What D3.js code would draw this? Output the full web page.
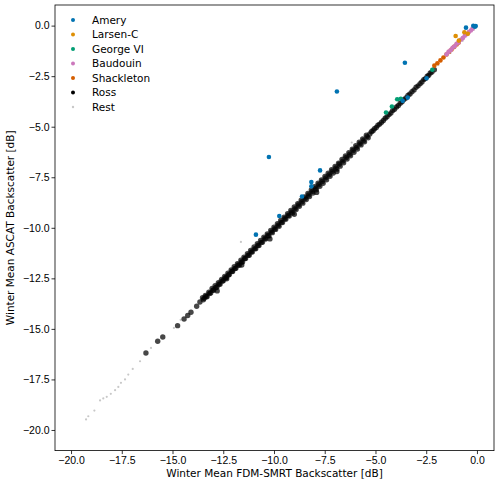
<!DOCTYPE html>
<html>
<head>
<meta charset="utf-8">
<script src="https://cdn.jsdelivr.net/npm/d3@7"></script>
<style>
  body { margin: 0; background: #fff; }
  svg { font-family: "DejaVu Sans", sans-serif; }
  .tick text { font-size: 10.5px; fill: #000; }
</style>
</head>
<body>
<div id="chart"></div>
<script>
// categories (legend order)
const groups = ['Amery', 'Larsen-C', 'George VI', 'Baudouin', 'Shackleton', 'Ross', 'Rest']
const colors = ['#0173b2', '#de8f05', '#029e73', '#cc78bc', '#d55e00', '#000000', '#c8c8c8']

// tick labels
const xTicks = [-20, -17.5, -15, -12.5, -10, -7.5, -5, -2.5, 0]
const yTicks = [-20, -17.5, -15, -12.5, -10, -7.5, -5, -2.5, 0]

// values  (x = FDM-SMRT, y = ASCAT)
const ameryX = [-3.55, -6.90, -10.25, -7.73, -8.16, -8.16, -8.62, -9.74, -10.89, -3.66, -3.41, -2.48, -0.54, -0.18, -0.10, -0.06]
const ameryY = [-1.84, -3.26, -6.50, -7.16, -7.74, -7.95, -8.45, -9.42, -10.34, -3.72, -3.56, -2.60, -0.10, -0.01, -0.05, -0.02]

const larsenX = [-1.05, -0.62, -0.89, -0.45]
const larsenY = [-0.51, -0.33, -0.74, -0.40]

const georgeX = [-3.93, -4.19, -4.48, -3.75, -2.20]
const georgeY = [-3.64, -4.00, -4.30, -3.62, -2.18]

const baudX = [-1.50, -1.40, -1.30, -1.20, -1.10, -1.00, -0.90, -0.80, -0.70, -0.60, -0.50, -0.40, -0.30, -0.22]
const baudY = [-1.42, -1.30, -1.22, -1.10, -1.02, -0.90, -0.82, -0.70, -0.62, -0.50, -0.43, -0.32, -0.24, -0.15]

const shackX = [-2.10, -1.95, -1.80, -1.65, -1.50, -1.38, -1.25, -1.12, -1.00, -0.90]
const shackY = [-1.98, -1.86, -1.72, -1.58, -1.43, -1.30, -1.18, -1.05, -0.93, -0.84]

const rossX = [-16.31, -15.73, -15.48, -14.75, -14.43, -14.25, -14.09, -13.81, -13.65,
  -13.52, -13.44, -13.38, -13.3, -13.21, -13.12, -13.05, -12.97, -12.9, -12.81,
  -12.74, -12.66, -12.58, -12.5, -12.43, -12.35, -12.27, -12.2, -12.11, -12.04,
  -11.96, -11.88, -11.8, -11.71, -11.63, -11.55, -11.48, -11.4, -11.31, -11.22,
  -11.15, -11.07, -10.98, -10.9, -10.82, -10.74, -10.66, -10.57, -10.5, -10.41,
  -10.33, -10.25, -10.16, -10.08, -10.0, -9.92, -9.83, -9.75, -9.67, -9.58,
  -9.5, -9.42, -9.33, -9.25, -9.17, -9.08, -9.0, -8.91, -8.83, -8.75,
  -8.66, -8.58, -8.5, -8.41, -8.33, -8.25, -8.16, -8.08, -8.0, -7.91,
  -7.83, -7.74, -7.66, -7.58, -7.49, -7.41, -7.33, -7.24, -7.16, -7.08,
  -6.99, -6.9, -6.82, -6.74, -6.65, -6.57, -6.48, -6.4, -6.31, -6.23,
  -6.14, -6.06, -5.97, -5.89, -5.8, -5.71, -5.63, -5.54, -5.45, -5.36,
  -5.2, -5.05, -4.88, -4.7, -4.52, -4.33, -4.15, -3.96, -3.78, -3.6,
  -3.4, -3.2, -3.0, -2.8, -2.62, -2.45, -2.3,
  -12.8, -12.33, -11.59, -10.2, -9.0, -7.9, -6.9,
  -13.48, -13.34, -13.17, -13.01, -12.86, -12.7, -12.54, -12.39, -12.24, -12.07,
  -11.92, -11.76, -11.6, -11.44, -11.27, -11.11, -10.94, -10.78, -10.62, -10.45,
  -10.29, -10.12, -9.96, -9.79, -9.63, -9.46, -9.29, -9.13, -8.96, -8.79,
  -8.62, -8.46, -8.29, -8.12, -7.95, -7.79, -7.62, -7.45, -7.28, -7.12,
  -6.95, -6.78, -6.61, -6.44, -6.27, -6.1, -5.93, -5.76, -5.58, -5.41,
  -5.28, -5.12, -4.96, -4.79, -4.61, -4.43, -4.24, -4.06, -3.87, -3.69,
  -3.5, -3.3, -3.1, -2.9, -2.71, -2.54, -2.38, -2.22, -2.1]
const rossY = [-16.19, -15.61, -15.40, -14.84, -14.51, -14.34, -14.18, -13.88, -13.67,
  -13.46, -13.49, -13.35, -13.41, -13.19, -13.22, -13.0, -13.08, -12.86, -12.93,
  -12.72, -12.79, -12.55, -12.62, -12.41, -12.47, -12.25, -12.31, -12.09, -12.16,
  -11.93, -12.0, -11.78, -11.85, -11.6, -11.69, -11.45, -11.52, -11.28, -11.36,
  -11.12, -11.2, -10.95, -11.04, -10.79, -10.88, -10.63, -10.72, -10.46, -10.56,
  -10.3, -10.4, -10.13, -10.24, -9.97, -10.08, -9.8, -9.92, -9.64, -9.74,
  -9.47, -9.58, -9.3, -9.42, -9.14, -9.27, -8.97, -9.1, -8.81, -8.94,
  -8.63, -8.78, -8.47, -8.6, -8.3, -8.45, -8.13, -8.28, -7.97, -8.12,
  -7.8, -7.95, -7.63, -7.8, -7.46, -7.62, -7.3, -7.45, -7.13, -7.29,
  -6.96, -7.1, -6.8, -6.95, -6.62, -6.78, -6.45, -6.6, -6.28, -6.44,
  -6.11, -6.26, -5.94, -6.1, -5.77, -5.9, -5.6, -5.75, -5.42, -5.55,
  -5.25, -5.1, -4.93, -4.78, -4.58, -4.4, -4.2, -4.02, -3.84, -3.66,
  -3.45, -3.27, -3.05, -2.87, -2.67, -2.5, -2.34,
  -13.12, -12.52, -11.84, -10.55, -9.33, -8.25, -7.22,
  -13.56, -13.40, -13.25, -13.09, -12.95, -12.78, -12.63, -12.47, -12.33, -12.15,
  -12.01, -11.84, -11.69, -11.52, -11.36, -11.19, -11.03, -10.86, -10.71, -10.53,
  -10.38, -10.2, -10.05, -9.87, -9.72, -9.54, -9.38, -9.21, -9.05, -8.87,
  -8.71, -8.54, -8.38, -8.2, -8.04, -7.87, -7.71, -7.53, -7.37, -7.2,
  -7.04, -6.86, -6.7, -6.52, -6.36, -6.18, -6.02, -5.84, -5.67, -5.49,
  -5.36, -5.2, -5.04, -4.87, -4.69, -4.51, -4.32, -4.14, -3.95, -3.77,
  -3.58, -3.38, -3.18, -2.98, -2.79, -2.62, -2.46, -2.3, -2.18]

const restX = [-19.26, -19.15, -18.85, -18.57, -18.41, -18.24, -18.04, -17.83, -17.67, -17.54,
  -17.34, -17.18, -16.96, -16.6, -16.06, -14.93, -14.6, -13.3, -12.7, -11.63,
  -11.1, -10.4, -9.6, -8.8, -7.7, -6.6, -6.17, -5.52, -5.2, -4.9, -4.6, -4.3, -4.0,
  -3.7, -3.4, -3.1, -2.8, -2.5, -2.2, -1.9, -1.6, -1.3, -1.0, -0.7, -0.4, -0.15]
const restY = [-19.48, -19.32, -19.04, -18.54, -18.44, -18.36, -18.21, -18.03, -17.87, -17.67,
  -17.50, -17.26, -16.98, -16.60, -15.94, -14.95, -14.55, -13.2, -12.6, -10.70,
  -11.0, -10.3, -9.5, -8.7, -7.6, -6.5, -5.78, -5.78, -5.1, -4.95, -4.55, -4.35, -3.95,
  -3.75, -3.35, -3.15, -2.75, -2.55, -2.15, -1.95, -1.55, -1.35, -0.95, -0.75, -0.35, -0.2]

const W = 500, H = 482
const padL = 55, padR = 494, padT = 5, padB = 450.6

const svg = d3.select('#chart').append('svg').attr('width', W).attr('height', H)

const x = d3.scaleLinear().domain([-20.79, 0.84]).range([padL, padR])
const y = d3.scaleLinear().domain([-21.02, 1.02]).range([padB, padT])
const fmt = d3.format('.1f')

// axes
svg.append('g').attr('transform', 'translate(0,' + padB + ')')
  .call(d3.axisBottom(x).tickValues(xTicks).tickFormat(fmt).tickSize(3.5).tickSizeOuter(0).tickPadding(2))
svg.append('g').attr('transform', 'translate(' + padL + ',0)')
  .call(d3.axisLeft(y).tickValues(yTicks).tickFormat(fmt).tickSize(3.5).tickSizeOuter(0).tickPadding(2))
svg.selectAll('.domain').remove()
svg.selectAll('.tick line').attr('stroke', '#000').attr('stroke-width', 0.8)

// plot points, back to front
function drawSet (xs, ys, color, r, op) {
  svg.append('g').selectAll('circle').data(xs).join('circle')
    .attr('cx', d => x(d))
    .attr('cy', (d, i) => y(ys[i]))
    .attr('r', r)
    .attr('fill', color)
    .attr('fill-opacity', op)
}
drawSet(restX, restY, colors[6], 1.1, 1)
drawSet(rossX, rossY, colors[5], 2.7, 0.72)
drawSet(shackX, shackY, colors[4], 2.3, 1)
drawSet(baudX, baudY, colors[3], 2.3, 1)
drawSet(georgeX, georgeY, colors[2], 2.3, 1)
drawSet(larsenX, larsenY, colors[1], 2.3, 1)
drawSet(ameryX, ameryY, colors[0], 2.3, 1)

// frame
svg.append('rect').attr('x', padL).attr('y', padT)
  .attr('width', padR - padL).attr('height', padB - padT)
  .attr('fill', 'none').attr('stroke', '#000').attr('stroke-width', 0.8)

// legend
const leg = svg.append('g')
groups.forEach((g, i) => {
  let yy = 20 + i * 14.5
  leg.append('circle').attr('cx', 73).attr('cy', yy).attr('r', g === 'Rest' ? 1.2 : 2)
    .attr('fill', colors[i])
  leg.append('text').attr('x', 92).attr('y', yy).attr('dy', '0.35em')
    .style('font-size', '10.5px').text(g)
})

// axis titles
svg.append('text').attr('x', (padL + padR) / 2).attr('y', 477)
  .attr('text-anchor', 'middle').style('font-size', '10.5px')
  .text('Winter Mean FDM-SMRT Backscatter [dB]')
svg.append('text').attr('transform', 'translate(14,' + ((padT + padB) / 2) + ') rotate(-90)')
  .attr('text-anchor', 'middle').style('font-size', '10.5px')
  .text('Winter Mean ASCAT Backscatter [dB]')
</script>
</body>
</html>
